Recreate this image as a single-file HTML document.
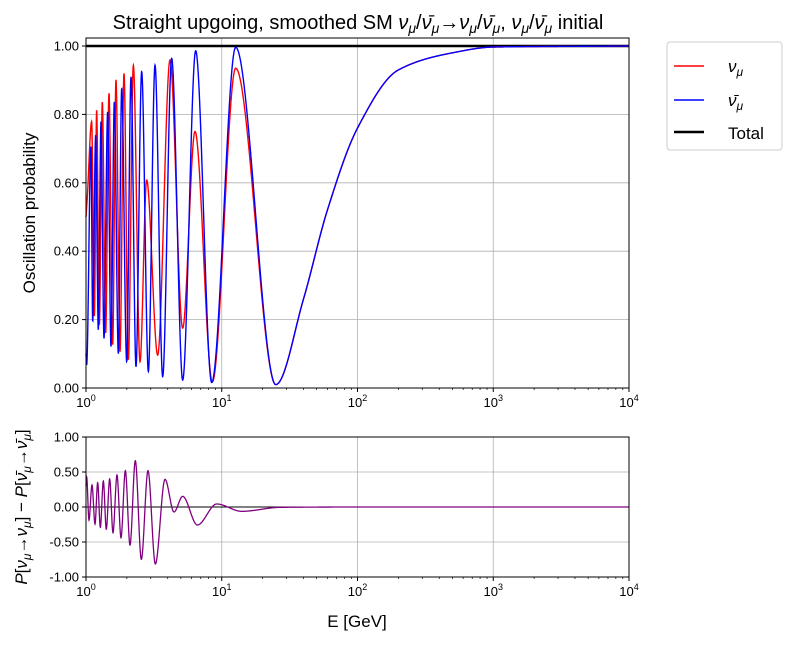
<!DOCTYPE html>
<html><head><meta charset="utf-8"><style>
body{margin:0;background:#fff}
svg{font-family:"Liberation Sans","DejaVu Sans",sans-serif}
</style></head><body>
<svg id="c" width="791" height="640" viewBox="0 0 791 640">
<text x="358" y="29" font-size="20" text-anchor="middle">Straight upgoing, smoothed SM <tspan font-style="italic">ν</tspan><tspan font-size="14" dy="4" font-style="italic">μ</tspan><tspan dy="-4">/</tspan><tspan font-style="italic">ν̄</tspan><tspan font-size="14" dy="4" font-style="italic">μ</tspan><tspan dy="-4">→</tspan><tspan font-style="italic">ν</tspan><tspan font-size="14" dy="4" font-style="italic">μ</tspan><tspan dy="-4">/</tspan><tspan font-style="italic">ν̄</tspan><tspan font-size="14" dy="4" font-style="italic">μ</tspan><tspan dy="-4">, </tspan><tspan font-style="italic">ν</tspan><tspan font-size="14" dy="4" font-style="italic">μ</tspan><tspan dy="-4">/</tspan><tspan font-style="italic">ν̄</tspan><tspan font-size="14" dy="4" font-style="italic">μ</tspan><tspan dy="-4"> initial</tspan></text>
<g id="main"></g>
<g id="sub"></g>
<text transform="translate(35,213) rotate(-90)" font-size="17" text-anchor="middle">Oscillation probability</text>
<text transform="translate(27,507) rotate(-90)" font-size="17" text-anchor="middle"><tspan font-style="italic">P</tspan>[<tspan font-style="italic">ν</tspan><tspan font-size="12" dy="4" font-style="italic">μ</tspan><tspan dy="-4">→</tspan><tspan font-style="italic">ν</tspan><tspan font-size="12" dy="4" font-style="italic">μ</tspan><tspan dy="-4">] − </tspan><tspan font-style="italic">P</tspan>[<tspan font-style="italic">ν̄</tspan><tspan font-size="12" dy="4" font-style="italic">μ</tspan><tspan dy="-4">→</tspan><tspan font-style="italic">ν̄</tspan><tspan font-size="12" dy="4" font-style="italic">μ</tspan><tspan dy="-4">]</tspan></text>
<text x="357" y="627" font-size="17" text-anchor="middle">E [GeV]</text>
<g>
<rect x="667" y="42" width="115" height="108" rx="3" fill="#fff" stroke="#ccc"/>
<line x1="674" y1="66" x2="704" y2="66" stroke="red" stroke-width="1.5"/>
<text x="728" y="72" font-size="17" font-style="italic">ν<tspan font-size="12" dy="4">μ</tspan></text>
<line x1="674" y1="100" x2="704" y2="100" stroke="blue" stroke-width="1.5"/>
<text x="728" y="106" font-size="17" font-style="italic">ν̄<tspan font-size="12" dy="4">μ</tspan></text>
<line x1="674" y1="132" x2="704" y2="132" stroke="#000" stroke-width="2.5"/>
<text x="728" y="139" font-size="17">Total</text>
</g>
</svg>
<script>
const numuE=[1,1.023,1.101,1.152,1.198,1.254,1.319,1.396,1.477,1.572,1.663,1.78,1.906,2.05,2.232,2.499,2.799,3.373,4.157,5.153,6.353,8.524,12.67,25,40,60,100,200,500,1000,10000];
const numuP=[0.5,0.56,0.779,0.209,0.813,0.184,0.837,0.16,0.862,0.126,0.901,0.106,0.92,0.082,0.944,0.077,0.608,0.096,0.959,0.175,0.75,0.018,0.935,0.01,0.26,0.52,0.76,0.93,0.98,0.997,1];
const nubarE=[1,1.011,1.088,1.12,1.178,1.232,1.29,1.357,1.444,1.528,1.617,1.73,1.832,1.994,2.146,2.335,2.571,2.879,3.224,3.671,4.276,5.153,6.426,8.43,12.67,25,40,60,100,200,500,1000,10000];
const nubarP=[0.1,0.067,0.706,0.194,0.74,0.17,0.779,0.145,0.808,0.121,0.837,0.101,0.876,0.077,0.91,0.062,0.925,0.048,0.944,0.033,0.964,0.023,0.986,0.016,0.996,0.01,0.26,0.52,0.76,0.93,0.98,0.997,1];
const diffE=[1,1.011,1.052,1.107,1.165,1.219,1.275,1.342,1.411,1.494,1.58,1.692,1.811,1.949,2.109,2.308,2.556,2.862,3.242,3.819,4.449,5.153,6.61,9.18,14.03,26.9,100,10000];
const diffV=[0.3,0.433,-0.186,0.314,-0.243,0.348,-0.29,0.371,-0.319,0.4,-0.367,0.457,-0.438,0.519,-0.543,0.662,-0.748,0.519,-0.814,0.395,-0.071,0.152,-0.257,0.043,-0.062,-0.005,0,0];
const yTicksMain=[0,0.2,0.4,0.6,0.8,1.0];
const yTicksSub=[-1,-0.5,0,0.5,1];
const xDecades=[0,1,2,3,4];

const NS="http://www.w3.org/2000/svg";
const X0=86,X1=629;
const xs=e=>X0+(Math.log10(e))/4*(X1-X0);
const yMain=p=>388-p*342;
const yMainTop=38;
const ySub=v=>507-v*70;
function mk(p,tag,at){const el=document.createElementNS(NS,tag);for(const k in at)el.setAttribute(k,at[k]);p.appendChild(el);return el;}
function curve(E,V,ys){
  const L=E.map(e=>Math.log10(e)),n=L.length;
  const dl=[];for(let i=0;i<n-1;i++)dl.push((V[i+1]-V[i])/(L[i+1]-L[i]));
  const m=new Array(n);m[0]=dl[0];m[n-1]=dl[n-2];
  for(let i=1;i<n-1;i++){
    if(dl[i-1]*dl[i]<=0)m[i]=0;
    else{const w1=2*(L[i+1]-L[i])+(L[i]-L[i-1]),w2=(L[i+1]-L[i])+2*(L[i]-L[i-1]);m[i]=(w1+w2)/(w1/dl[i-1]+w2/dl[i]);}
  }
  let d="",j=0;
  for(let px=xs(E[0]);px<=xs(E[n-1])+0.01;px+=0.2){
    const lx=(px-X0)/(X1-X0)*4;
    while(j<n-2&&L[j+1]<lx)j++;
    const h=L[j+1]-L[j];let t=(lx-L[j])/h;t=Math.max(0,Math.min(1,t));
    const t2=t*t,t3=t2*t;
    const v=(2*t3-3*t2+1)*V[j]+(t3-2*t2+t)*h*m[j]+(-2*t3+3*t2)*V[j+1]+(t3-t2)*h*m[j+1];
    d+=(d?"L":"M")+px.toFixed(2)+","+ys(v).toFixed(2);
  }
  return d;
}
function axes(g,top,bot,yt,ys,fmt,nm){
  for(const k of xDecades){if(k>0&&k<4){const l=mk(g,"line",{x1:xs(10**k),x2:xs(10**k),y1:top,y2:bot,stroke:"#b0b0b0","stroke-width":0.8});
  
  }}
  for(const v of yt){const y=ys(v);if(y>top+1&&y<bot-1){const l=mk(g,"line",{x1:X0,x2:X1,y1:y,y2:y,stroke:"#b0b0b0","stroke-width":0.8});
  
  }
  mk(g,"line",{x1:X0-4,x2:X0,y1:y,y2:y,stroke:"#000"});
  const t=mk(g,"text",{x:X0-7,y:y+4.5,"font-size":13,"text-anchor":"end"});t.textContent=fmt(v);
  
  }
  for(const k of xDecades){const x=xs(10**k);mk(g,"line",{x1:x,x2:x,y1:bot,y2:bot+4,stroke:"#000"});
  const t=mk(g,"text",{x:x,y:bot+19,"font-size":13,"text-anchor":"middle"});t.innerHTML='10<tspan font-size="9" dy="-6">'+k+'</tspan>';
  
  
  if(k<4)for(let m=2;m<10;m++){const xm=xs(m*10**k);mk(g,"line",{x1:xm,x2:xm,y1:bot,y2:bot+2,stroke:"#000","stroke-width":0.7});}}
}
const gm=document.getElementById("main");
axes(gm,yMainTop,388,yTicksMain,yMain,v=>v.toFixed(2),"main");
const tot=mk(gm,"line",{x1:X0,x2:X1,y1:yMain(1),y2:yMain(1),stroke:"#000","stroke-width":2.5});


const pr=mk(gm,"path",{d:curve(numuE,numuP,yMain),fill:"none",stroke:"red","stroke-width":1.4});


const pb=mk(gm,"path",{d:curve(nubarE,nubarP,yMain),fill:"none",stroke:"blue","stroke-width":1.4});


mk(gm,"rect",{x:X0,y:yMainTop,width:X1-X0,height:388-yMainTop,fill:"none",stroke:"#000","stroke-width":1});
const gs=document.getElementById("sub");
axes(gs,437,577,yTicksSub,ySub,v=>v.toFixed(2),"diff");
const zl=mk(gs,"line",{x1:X0,x2:X1,y1:ySub(0),y2:ySub(0),stroke:"#000","stroke-width":1});


const pd=mk(gs,"path",{d:curve(diffE,diffV,ySub),fill:"none",stroke:"purple","stroke-width":1.3});


mk(gs,"rect",{x:X0,y:437,width:X1-X0,height:140,fill:"none",stroke:"#000","stroke-width":1});
</script>
</body></html>
